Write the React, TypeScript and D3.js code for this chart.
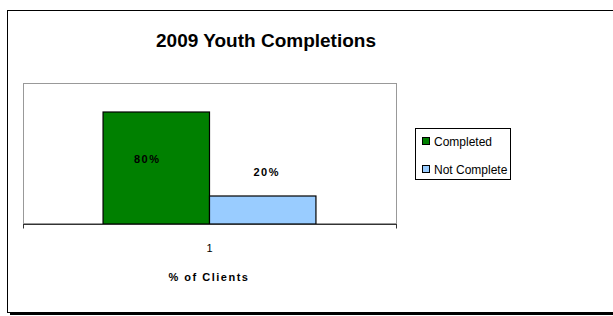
import React, { useEffect, useRef } from 'react';
import * as d3 from 'd3';

const categories = ['1'];
const seriesNames = ['Completed', 'Not Complete'];
const seriesValues = [80, 20];
const seriesColors = ['#008000', '#99ccff'];
const valueLabels = ['80%', '20%'];

export default function App() {
  const ref = useRef<SVGSVGElement>(null);

  useEffect(() => {
    if (!ref.current) return;
    const svg = d3.select(ref.current);
    svg.selectAll('*').remove();

    const font = 'Liberation Sans, Arial, sans-serif';
    const plot = { left: 23, top: 84, right: 396, bottom: 224 };

    // outer frame with shadow
    svg.append('rect').attr('x', 10).attr('y', 13).attr('width', 620).attr('height', 302).attr('fill', '#000');
    svg.append('rect').attr('x', 7.5).attr('y', 10.5).attr('width', 620).attr('height', 302)
      .attr('fill', '#fff').attr('stroke', '#000').attr('stroke-width', 1);

    svg.append('text').attr('x', 266).attr('y', 47).attr('text-anchor', 'middle')
      .attr('font-family', font).attr('font-weight', 'bold').attr('font-size', 19)
      .text('2009 Youth Completions');

    const x0 = d3.scaleBand().domain(categories).range([plot.left, plot.right]).paddingInner(0).paddingOuter(0.376);
    const x1 = d3.scaleBand().domain(seriesNames).range([0, x0.bandwidth()]);
    const y = d3.scaleLinear().domain([0, 100]).range([plot.bottom, plot.top]);

    // plot area border
    svg.append('rect').attr('x', plot.left + 0.5).attr('y', plot.top - 0.5)
      .attr('width', plot.right - plot.left).attr('height', plot.bottom - plot.top)
      .attr('fill', '#fff').attr('stroke', '#999').attr('stroke-width', 1);

    const labelDx = [-9, 4];
    const g = svg.append('g').attr('transform', `translate(${x0(categories[0])},0)`);
    seriesNames.forEach((s, i) => {
      g.append('rect')
        .attr('x', x1(s)!).attr('y', y(seriesValues[i]))
        .attr('width', x1.bandwidth()).attr('height', y(0) - y(seriesValues[i]))
        .attr('fill', seriesColors[i]).attr('stroke', '#000').attr('stroke-width', 1.2);
      g.append('text')
        .attr('x', x1(s)! + x1.bandwidth() / 2 + labelDx[i])
        .attr('y', i === 0 ? y(seriesValues[i]) + 51 : y(seriesValues[i]) - 20)
        .attr('text-anchor', 'middle').attr('font-family', font).attr('font-weight', 'bold')
        .attr('font-size', 11).attr('letter-spacing', 1.5)
        .text(valueLabels[i]);
    });

    // x axis
    const axis = svg.append('g').attr('transform', `translate(0,${plot.bottom + 0.5})`);
    axis.append('line').attr('x1', plot.left).attr('x2', plot.right + 1).attr('stroke', '#333').attr('stroke-width', 1);
    [plot.left + 0.5, plot.right + 0.5].forEach(t => {
      axis.append('line').attr('x1', t).attr('x2', t).attr('y1', 0).attr('y2', 4).attr('stroke', '#333');
    });
    axis.append('text').attr('x', x0(categories[0])! + x0.bandwidth() / 2).attr('y', 27)
      .attr('text-anchor', 'middle').attr('font-family', font).attr('font-size', 11).attr('fill', '#000')
      .text(categories[0]);

    svg.append('text').attr('x', 209).attr('y', 281).attr('text-anchor', 'middle')
      .attr('font-family', font).attr('font-weight', 'bold').attr('font-size', 11).attr('letter-spacing', 1.5)
      .text('% of Clients');

    // legend
    const leg = svg.append('g');
    leg.append('rect').attr('x', 415.5).attr('y', 128.5).attr('width', 95).attr('height', 51)
      .attr('fill', '#fff').attr('stroke', '#000').attr('stroke-width', 1);
    seriesNames.forEach((s, i) => {
      const ly = 142 + i * 28;
      leg.append('rect').attr('x', 422.5).attr('y', ly - 4.5).attr('width', 7).attr('height', 7)
        .attr('fill', seriesColors[i]).attr('stroke', '#000').attr('stroke-width', 1);
      leg.append('text').attr('x', 434).attr('y', ly + 4).attr('font-family', font).attr('font-size', 12)
        .text(s);
    });
  }, []);

  return (
    <svg ref={ref} width={613} height={316}
      style={{ position: 'absolute', left: 0, top: 0, background: '#fff' }} />
  );
}
